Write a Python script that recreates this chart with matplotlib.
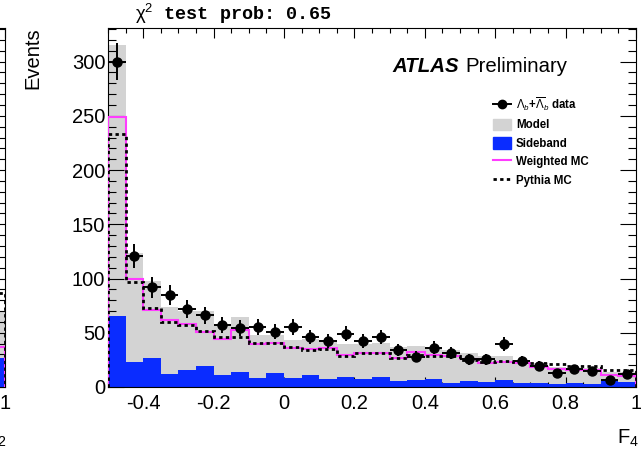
import numpy as np
import matplotlib
matplotlib.use("Agg")
import matplotlib.pyplot as plt
from matplotlib.lines import Line2D
from matplotlib.patches import Patch
from matplotlib.ticker import MultipleLocator

plt.rcParams["font.family"] = ["Liberation Sans", "DejaVu Sans"]
plt.rcParams["mathtext.fontset"] = "custom"
plt.rcParams["mathtext.rm"] = "Liberation Sans"
plt.rcParams["mathtext.it"] = "Liberation Sans:italic"
plt.rcParams["mathtext.bf"] = "Liberation Sans:bold"
plt.rcParams["axes.unicode_minus"] = False

# F4 distribution, 30 bins of 0.05 from -0.5 to 1.0
edges = np.linspace(-0.5, 1.0, 31)
data = [300, 121, 92, 85, 72, 66, 57, 54, 55, 51,
        55, 46, 42, 49, 42, 46, 34, 28, 36, 31,
        25.5, 25.5, 39.5, 24, 19.5, 13, 16.5, 15, 6.5, 11.7]
model = [315, 124, 98, 74, 70, 70, 56, 65, 48, 48,
         43.5, 44, 43, 40, 39.5, 40.5, 37, 38, 36, 34,
         31, 28.5, 28.5, 25, 22, 18.8, 17, 17.8, 13.8, 13.5]
sideband = [65.5, 23, 27, 12, 16, 19, 11, 14, 8.6, 13,
            8, 10.8, 7.8, 9, 7.4, 8.8, 5.8, 6.5, 7, 4,
            5.5, 4.2, 6.5, 3.4, 3.4, 2.8, 3.4, 3.2, 5.6, 5]
weighted = [249, 99.5, 71, 62, 58, 51, 44, 53, 39.5, 40.5,
            35.7, 35, 35.7, 29.5, 31, 31.7, 27, 32.6, 29.5, 28.6,
            25.5, 21.8, 22.7, 21.8, 18.8, 16.6, 15.7, 15.7, 11, 10.2]
pythia = [233, 97, 73, 60, 57, 52, 46, 46.4, 40.3, 40.5,
          37, 34, 34.7, 28.6, 31.7, 31.7, 26.5, 29.5, 29, 28.6,
          25, 23.4, 24, 23.4, 21.8, 21, 19.7, 19.7, 15.7, 15.7]

# last bin of the neighbouring (F2) panel, cut off at the left edge
prev_edges = [0.95, 1.0]
prev_model = [69]
prev_sideband = [27]
prev_weighted = [37]
prev_pythia = [86.5]

GRAY = "#d3d3d3"
BLUE = "#0a2cff"
MAGENTA = "#ff3cff"

W, H = 641, 450
fig = plt.figure(figsize=(W / 100, H / 100), dpi=100)


def px_axes(left, top, right, bottom):
    return fig.add_axes([left / W, 1 - bottom / H, (right - left) / W,
                         (bottom - top) / H])


def style(ax):
    ax.set_xlim(-0.5, 1.0)
    ax.set_ylim(0, 331)
    ax.xaxis.set_major_locator(MultipleLocator(0.2))
    ax.xaxis.set_minor_locator(MultipleLocator(0.05))
    ax.yaxis.set_major_locator(MultipleLocator(50))
    ax.yaxis.set_minor_locator(MultipleLocator(10))
    ax.tick_params(which="both", direction="in", top=True, right=True,
                   labelsize=14.5, width=0.8)
    ax.tick_params(axis="x", which="major", length=7.5, pad=5)
    ax.tick_params(axis="x", which="minor", length=3.8)
    ax.tick_params(axis="y", which="major", length=11.5, pad=2)
    ax.tick_params(axis="y", which="minor", length=5.8)
    ax.xaxis.set_major_formatter(lambda v, p: f"{v:g}")
    for s in ax.spines.values():
        s.set_linewidth(0.8)


centers = 0.5 * (edges[:-1] + edges[1:])
bw = edges[1] - edges[0]

# neighbouring panel sliver (only its right edge is in the picture)
axp = px_axes(5 - 529, 28, 5, 387)
style(axp)
axp.tick_params(labelleft=False)
axp.xaxis.set_major_formatter(lambda v, p: "1" if abs(v - 1) < 1e-9 else "")
pc = [0.5 * (prev_edges[0] + prev_edges[1])]
axp.bar(pc, prev_model, width=bw, color=GRAY, zorder=1)
axp.bar(pc, prev_sideband, width=bw, color=BLUE, zorder=2)
axp.plot([prev_edges[0], prev_edges[1], prev_edges[1]],
         [prev_weighted[0], prev_weighted[0], 0], color=MAGENTA, lw=1.5, zorder=3)
axp.plot([prev_edges[0], prev_edges[1], prev_edges[1]],
         [prev_pythia[0], prev_pythia[0], 0], color="k", lw=2,
         ls=(0, (1.2, 1.2)), zorder=4)

# main panel
ax = px_axes(108, 28, 636, 387)
style(ax)
ax.bar(centers, model, width=bw, color=GRAY, zorder=1)
ax.bar(centers, sideband, width=bw, color=BLUE, zorder=2)
ax.stairs(weighted, edges, color=MAGENTA, lw=1.5, zorder=3)
ax.stairs(pythia, edges, color="k", lw=2, ls=(0, (1.2, 1.2)), zorder=4)
ax.errorbar(centers, data, yerr=np.sqrt(data), xerr=bw / 2, fmt="o",
            color="k", ms=6.5, elinewidth=1.4, capsize=0, zorder=5)

handles = [
    Line2D([], [], color="k", marker="o", ms=6, lw=1.4),
    Patch(facecolor=GRAY, edgecolor=GRAY),
    Patch(facecolor=BLUE, edgecolor=BLUE),
    Line2D([], [], color=MAGENTA, lw=1.5),
    Line2D([], [], color="k", lw=2, ls=(0, (1.2, 1.2))),
]
labels = [r"$\Lambda_b$+$\overline{\Lambda}_b$ data", "Model", "Sideband",
          "Weighted MC", "Pythia MC"]
ax.legend(handles, labels, loc="upper left",
          bbox_to_anchor=(493 / W, 1 - 95 / H), bbox_transform=fig.transFigure,
          frameon=False, prop={"weight": "bold", "size": 8.3},
          handlelength=1.6, handleheight=1.15, handletextpad=0.4,
          labelspacing=0.5, borderpad=0, borderaxespad=0)

fig.text(392 / W, 1 - 72 / H, "ATLAS", fontsize=14.7, fontweight="bold",
         fontstyle="italic", ha="left", va="baseline")
fig.text(465 / W, 1 - 72 / H, "Preliminary", fontsize=14.7,
         ha="left", va="baseline")
fig.text(135 / W, 1 - 20 / H, r"$\mathrm{\chi}^2$ test prob: 0.65",
         family=["Liberation Mono", "DejaVu Sans Mono"], fontweight="bold",
         fontsize=13.3, ha="left", va="baseline")
fig.text(33 / W, 1 - 27 / H, "Events", fontsize=14.5, rotation=90,
         ha="center", va="top")
fig.text(639 / W, 1 - 444 / H, r"F$_4$", fontsize=14.5, ha="right",
         va="baseline")
fig.text(7 / W, 1 - 444 / H, r"F$_2$", fontsize=14.5, ha="right",
         va="baseline")

fig.savefig("out.png", dpi=100)
